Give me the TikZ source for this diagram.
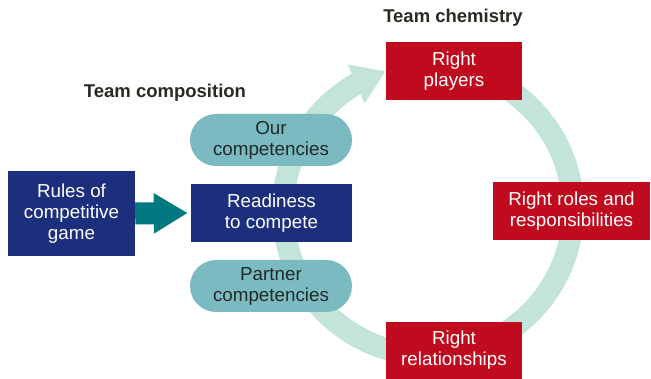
\documentclass[tikz,border=0pt]{standalone}
\usepackage{fontspec}
\setmainfont{Liberation Sans}
\usetikzlibrary{arrows.meta,bending}

\definecolor{navybox}{HTML}{1B2F7C}
\definecolor{redbox}{HTML}{C00A1E}
\definecolor{pillfill}{HTML}{7BBAC0}
\definecolor{pilltext}{HTML}{1F2A2A}
\definecolor{flowteal}{HTML}{007A80}
\definecolor{cyclemint}{HTML}{C2E4DA}
\definecolor{headtext}{HTML}{2B2A22}

\tikzset{
  boxtext/.style={font=\fontsize{18.8}{21}\selectfont, align=center, inner sep=0pt},
  bluebox/.style={boxtext, fill=navybox, text=white},
  redbox/.style={boxtext, fill=redbox, text=white},
  pill/.style={boxtext, fill=pillfill, text=pilltext, rounded corners=26pt,
               minimum width=162pt, minimum height=52pt},
  heading/.style={font=\fontsize{18.5}{22}\selectfont\bfseries, text=headtext, inner sep=0pt},
  cycle ring/.style={line width=22pt, draw=cyclemint,
                     -{Triangle[length=32pt, width=40pt, flex]}},
  feed arrow/.style={line width=22pt, draw=flowteal,
                     -{Triangle[length=34pt, width=38pt]}, shorten >=3pt}
}

\begin{document}
\begin{tikzpicture}[x=1pt, y=1pt]
  \useasboundingbox (0,0) rectangle (651,379);

  % the cycle of team chemistry, drawn beneath every box
  \coordinate (hub) at (428,169);
  \draw[cycle ring] (hub) ++(90:145) arc[start angle=90, end angle=-253, radius=145];

  % headings
  \node[heading] (chem) at (453,361) {Team chemistry};
  \node[heading] (comp) at (165,286) {Team composition};

  % team composition
  \node[bluebox, minimum width=127pt, minimum height=85pt] (rules) at (71.5,165.5)
    {Rules of\\competitive\\game};
  \node[bluebox, minimum width=161pt, minimum height=58pt] (ready) at (271.5,166)
    {Readiness\\to compete};
  \node[pill] (ours) at (271,239) {Our\\competencies};
  \node[pill] (partner) at (271,93) {Partner\\competencies};

  % team chemistry
  \node[redbox, minimum width=136pt, minimum height=58pt] (players) at (454,308)
    {Right\\players};
  \node[redbox, minimum width=157pt, minimum height=58pt] (roles) at (571.5,168)
    {Right roles and\\responsibilities};
  \node[redbox, minimum width=136pt, minimum height=57pt] (relations) at (454,28.5)
    {Right\\relationships};

  % rules feed readiness
  \draw[feed arrow] (rules.east) -- (ready.west);
\end{tikzpicture}
\end{document}
